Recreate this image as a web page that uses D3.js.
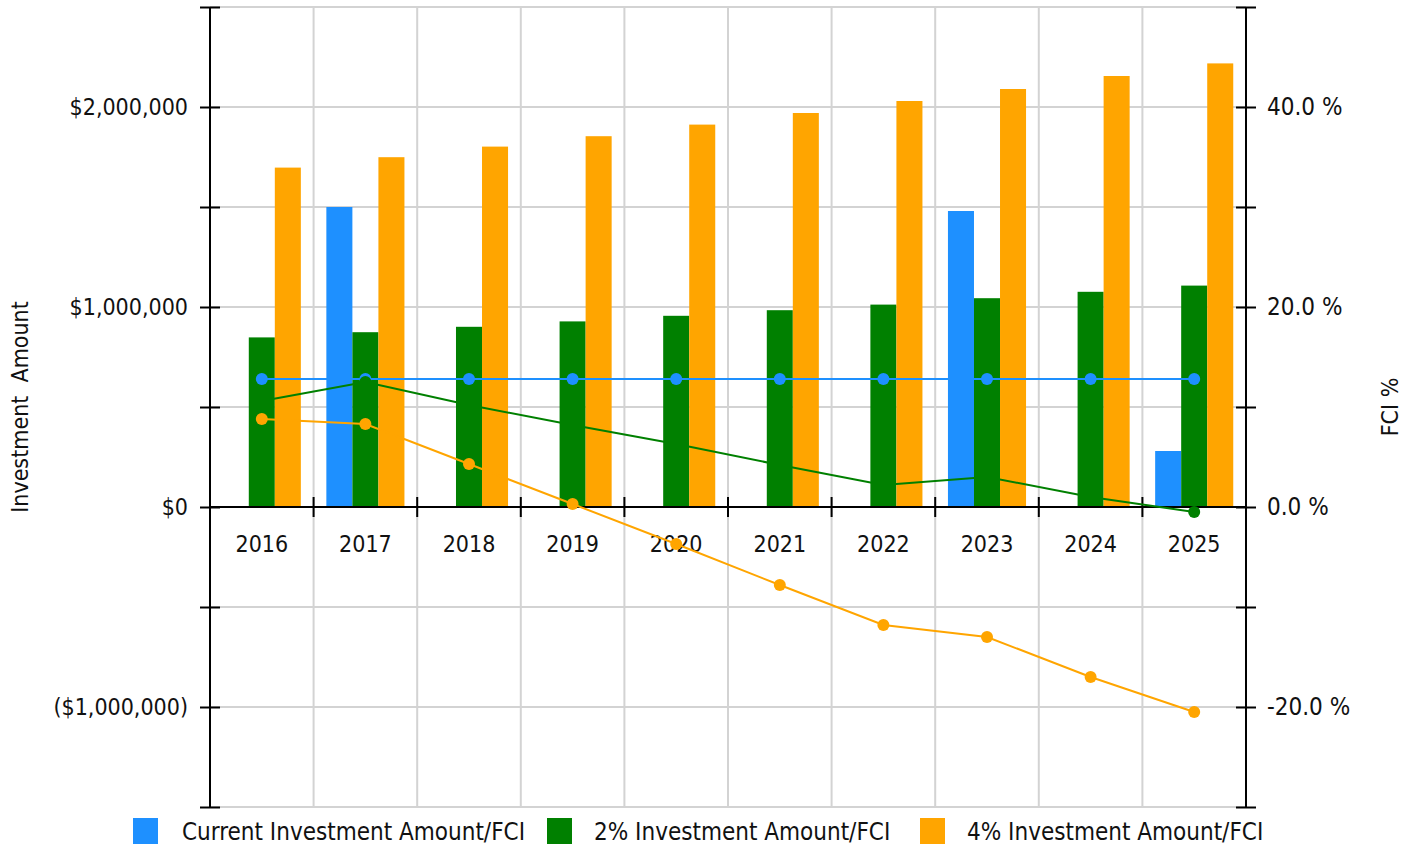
<!DOCTYPE html>
<html>
<head>
<meta charset="utf-8">
<script src="https://cdn.jsdelivr.net/npm/d3@7"></script>
<style>
  body { margin: 0; background: #fff; }
  svg text { font-family: 'DejaVu Sans Condensed', 'DejaVu Sans', sans-serif; font-stretch: condensed; fill: #111; }
  .axis text { font-size: 23px; }
  .axis.right text { font-size: 24px; }
  .legend text { font-size: 24px; }
  .title { font-size: 23px; }
  .axis path, .axis line { stroke: #000; stroke-width: 2px; }
</style>
</head>
<body>
<div id="chart"></div>
<script>
// data
var years = ['2016', '2017', '2018', '2019', '2020', '2021', '2022', '2023', '2024', '2025'];
var seriesNames = ['Current Investment Amount/FCI', '2% Investment Amount/FCI', '4% Investment Amount/FCI'];
var seriesColors = ['#1e90ff', '#008000', '#ffa500'];

var currentAmount = [0, 1500000, 0, 0, 0, 0, 0, 1480000, 0, 280000];
var amount2 = [848000, 874000, 901000, 928000, 956000, 984000, 1012000, 1044000, 1076000, 1107000];
var amount4 = [1697000, 1749000, 1802000, 1854000, 1912000, 1970000, 2030000, 2090000, 2155000, 2218000];

var fciCurrent = [12.8, 12.8, 12.8, 12.8, 12.8, 12.8, 12.8, 12.8, 12.8, 12.8];
var fci2 = [10.6, 12.5, 10.2, 8.2, 6.3, 4.2, 2.2, 3.0, 1.0, -0.5];
var fci4 = [8.8, 8.3, 4.3, 0.3, -3.7, -7.8, -11.8, -13.0, -17.0, -20.5];

var amountTicks = [-1500000, -1000000, -500000, 0, 500000, 1000000, 1500000, 2000000, 2500000];
var fciTicks = [-30, -20, -10, 0, 10, 20, 30, 40, 50];

var width = 1416, height = 846;
var margin = {top: 7, right: 170, bottom: 39, left: 210};
var innerW = width - margin.left - margin.right;
var innerH = height - margin.top - margin.bottom;

var svg = d3.select('#chart')
    .append('svg')
    .attr('width', width)
    .attr('height', height);

var g = svg.append('g')
    .attr('transform', 'translate(' + margin.left + ',' + margin.top + ')');

var x0 = d3.scaleBand().domain(years).range([0, innerW]).padding(0);
var x1 = d3.scaleBand().domain([0, 1, 2]).range([0, x0.bandwidth()])
    .paddingInner(0).paddingOuter(0.49);
var y = d3.scaleLinear().domain([-1500000, 2500000]).range([innerH, 0]);
var yr = d3.scaleLinear().domain([-30, 50]).range([innerH, 0]);

// grid
g.append('g').selectAll('line.h')
    .data(amountTicks)
    .enter().append('line')
    .attr('x1', 0).attr('x2', innerW)
    .attr('y1', function(d) { return y(d); })
    .attr('y2', function(d) { return y(d); })
    .attr('stroke', '#d3d3d3').attr('stroke-width', 2);

var bounds = years.map(function(d) { return x0(d); }).concat([innerW]);
g.append('g').selectAll('line.v')
    .data(bounds)
    .enter().append('line')
    .attr('x1', function(d) { return d; }).attr('x2', function(d) { return d; })
    .attr('y1', 0).attr('y2', innerH)
    .attr('stroke', '#d3d3d3').attr('stroke-width', 2);

// bars
var amounts = [currentAmount, amount2, amount4];
var barData = [];
years.forEach(function(yr_, i) {
  amounts.forEach(function(arr, s) {
    barData.push({year: yr_, s: s, v: arr[i]});
  });
});

g.append('g').selectAll('rect')
    .data(barData.filter(function(d) { return d.v !== 0; }))
    .enter().append('rect')
    .attr('x', function(d) { return x0(d.year) + x1(d.s); })
    .attr('width', x1.bandwidth())
    .attr('y', function(d) { return y(Math.max(0, d.v)); })
    .attr('height', function(d) { return Math.abs(y(d.v) - y(0)); })
    .attr('fill', function(d) { return seriesColors[d.s]; });

// axes
var fmtMoney = d3.format(',');
var leftAxis = d3.axisLeft(y)
    .tickValues(amountTicks)
    .tickSize(10)
    .tickPadding(12)
    .tickFormat(function(v) {
      if (v % 1000000 !== 0) return '';
      if (v < 0) return '($' + fmtMoney(-v) + ')';
      return '$' + fmtMoney(v);
    });
var la = g.append('g').attr('class', 'axis').call(leftAxis);
la.selectAll('.tick line').attr('x1', 10);
la.select('.domain').attr('d', 'M0,0V' + innerH);

var rightAxis = d3.axisRight(yr)
    .tickValues(fciTicks)
    .tickSize(10)
    .tickPadding(11)
    .tickFormat(function(v) {
      return v % 20 !== 0 ? '' : v.toFixed(1) + ' %';
    });
var ra = g.append('g').attr('class', 'axis right')
    .attr('transform', 'translate(' + innerW + ',0)')
    .call(rightAxis);
ra.selectAll('.tick line').attr('x1', -10);
ra.select('.domain').attr('d', 'M0,0V' + innerH);

// x axis at zero
var xa = g.append('g').attr('class', 'axis')
    .attr('transform', 'translate(0,' + y(0) + ')');
xa.append('line')
    .attr('x1', 0).attr('x2', innerW);
xa.selectAll('line.tk')
    .data(bounds)
    .enter().append('line')
    .attr('x1', function(d) { return d; }).attr('x2', function(d) { return d; })
    .attr('y1', -10).attr('y2', 10);
xa.selectAll('text')
    .data(years)
    .enter().append('text')
    .attr('x', function(d) { return x0(d) + x0.bandwidth() / 2; })
    .attr('y', 45)
    .attr('text-anchor', 'middle')
    .text(function(d) { return d; });

// lines
var fcis = [fciCurrent, fci2, fci4];
var line = d3.line()
    .x(function(d, i) { return x0(years[i]) + x0.bandwidth() / 2; })
    .y(function(d) { return yr(d); });

fcis.forEach(function(arr, s) {
  g.append('path')
      .datum(arr)
      .attr('d', line)
      .attr('fill', 'none')
      .attr('stroke', seriesColors[s])
      .attr('stroke-width', 2);
  g.append('g').selectAll('circle')
      .data(arr)
      .enter().append('circle')
      .attr('cx', function(d, i) { return x0(years[i]) + x0.bandwidth() / 2; })
      .attr('cy', function(d) { return yr(d); })
      .attr('r', 6)
      .attr('fill', seriesColors[s]);
});

// axis titles
svg.append('text')
    .attr('class', 'title')
    .attr('transform', 'translate(28,' + (margin.top + innerH / 2) + ') rotate(-90)')
    .attr('text-anchor', 'middle')
    .text('Investment\u00a0\u00a0Amount');

svg.append('text')
    .attr('class', 'title')
    .attr('transform', 'translate(1398,' + (margin.top + innerH / 2) + ') rotate(-90)')
    .attr('text-anchor', 'middle')
    .text('FCI %');

// legend
var legendX = [133, 547, 920];
var legendTextX = [49, 47, 47];
var legend = svg.append('g').attr('class', 'legend').selectAll('g')
    .data(seriesNames)
    .enter().append('g')
    .attr('transform', function(d, i) { return 'translate(' + legendX[i] + ',818)'; });
legend.append('rect')
    .attr('width', 25).attr('height', 26)
    .attr('fill', function(d, i) { return seriesColors[i]; });
legend.append('text')
    .attr('x', function(d, i) { return legendTextX[i]; }).attr('y', 22)
    .text(function(d) { return d; });
</script>
</body>
</html>
